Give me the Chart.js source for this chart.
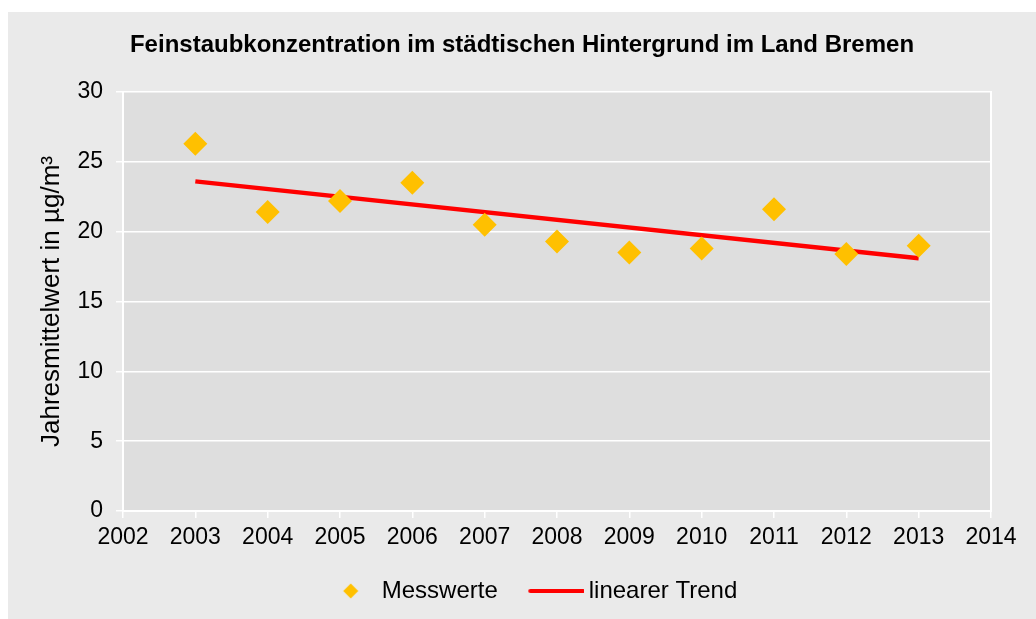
<!DOCTYPE html>
<html>
<head>
<meta charset="utf-8">
<script src="https://cdn.jsdelivr.net/npm/chart.js@4"></script>
<style>
  html, body { margin: 0; padding: 0; background: #ffffff; }
  #box {
    position: absolute; left: 8px; top: 12px;
    width: 1028px; height: 607px;
    background: #eaeaea;
  }
</style>
</head>
<body>
<div id="box"><canvas id="chart"></canvas></div>
<script>
// Jahresmittelwerte (µg/m³)
let years = [2003, 2004, 2005, 2006, 2007, 2008, 2009, 2010, 2011, 2012, 2013];
let messwerte = [26.3, 21.4, 22.2, 23.5, 20.5, 19.3, 18.5, 18.8, 21.6, 18.4, 19.0];
// linear trend, start and end as drawn
let trendYears = [2003, 2013];
let trendValues = [23.6, 18.1];
let yTicks = [0, 5, 10, 15, 20, 25, 30];
let xMin = 2002;
let xMax = 2014;

let fontFamily = "'Liberation Sans', Arial, sans-serif";
let gold = "#ffc000";
let red = "#ff0000";

// small images for the legend markers (offset so text spacing matches)
function diamondImage() {
  let c = document.createElement("canvas");
  c.width = 41;
  c.height = 16;
  let g = c.getContext("2d");
  let cx = 33;
  g.fillStyle = gold;
  g.beginPath();
  g.moveTo(cx, 0.5);
  g.lineTo(cx + 7.5, 8);
  g.lineTo(cx, 15.5);
  g.lineTo(cx - 7.5, 8);
  g.closePath();
  g.fill();
  return c;
}
function lineImage() {
  let c = document.createElement("canvas");
  c.width = 78;
  c.height = 6;
  let g = c.getContext("2d");
  g.strokeStyle = red;
  g.lineWidth = 4;
  g.lineCap = "round";
  g.beginPath();
  g.moveTo(24, 3);
  g.lineTo(77, 3);
  g.stroke();
  return c;
}
let legendMarks = [diamondImage(), lineImage()];

let plotBackground = {
  id: "plotBackground",
  beforeDraw(chart) {
    let a = chart.chartArea;
    let ctx = chart.ctx;
    ctx.save();
    ctx.fillStyle = "#dedede";
    ctx.fillRect(a.left, a.top, a.right - a.left, a.bottom - a.top);
    ctx.restore();
  },
};

new Chart(document.getElementById("chart"), {
  type: "scatter",
  data: {
    datasets: [
      {
        label: "Messwerte",
        data: years.map((y, i) => ({ x: y, y: messwerte[i] })),
        pointStyle: "rectRot",
        pointRadius: 12,
        pointHoverRadius: 12,
        backgroundColor: gold,
        borderColor: gold,
        borderWidth: 0,
        order: 1,
      },
      {
        label: "linearer Trend",
        type: "line",
        data: trendYears.map((y, i) => ({ x: y, y: trendValues[i] })),
        borderColor: red,
        borderWidth: 4.5,
        pointRadius: 0,
        fill: false,
        order: 2,
      },
    ],
  },
  options: {
    responsive: true,
    maintainAspectRatio: false,
    animation: false,
    layout: { padding: { left: 0, right: 0, top: 0, bottom: 6 } },
    plugins: {
      title: {
        display: true,
        text: "Feinstaubkonzentration im städtischen Hintergrund im Land Bremen",
        color: "#000000",
        font: { family: fontFamily, size: 24, weight: "bold", lineHeight: 1.2 },
        padding: { top: 18.6, bottom: 32.6 },
      },
      legend: {
        display: true,
        position: "bottom",
        labels: {
          color: "#000000",
          font: { family: fontFamily, size: 24 },
          usePointStyle: true,
          pointStyleWidth: 63,
          boxHeight: 16,
          padding: 16,
          generateLabels: (chart) =>
            chart.data.datasets.map((ds, i) => ({
              text: ds.label,
              pointStyle: legendMarks[i],
              fillStyle: i == 0 ? gold : red,
              strokeStyle: i == 0 ? gold : red,
              lineWidth: 0,
              hidden: false,
              datasetIndex: i,
            })),
        },
      },
      tooltip: { enabled: false },
    },
    scales: {
      x: {
        type: "linear",
        min: xMin,
        max: xMax,
        afterFit: (scale) => { scale.height = 52; },
        ticks: {
          stepSize: 1,
          color: "#000000",
          font: { family: fontFamily, size: 23 },
          padding: 6,
          callback: (v) => String(v),
        },
        grid: {
          drawOnChartArea: false,
          drawTicks: true,
          tickLength: 7,
          color: "#ffffff",
          lineWidth: 1.5,
        },
        border: { display: true, color: "#ffffff", width: 2 },
      },
      y: {
        min: 0,
        max: 30,
        afterFit: (scale) => { scale.width = 115; },
        afterBuildTicks: (scale) => { scale.ticks = yTicks.map((v) => ({ value: v })); },
        ticks: {
          color: "#000000",
          font: { family: fontFamily, size: 23 },
          padding: 13,
        },
        grid: {
          color: "#ffffff",
          lineWidth: 1.5,
          tickLength: 7,
        },
        border: { display: true, color: "#ffffff", width: 2 },
        title: {
          display: true,
          text: "Jahresmittelwert in µg/m³",
          color: "#000000",
          font: { family: fontFamily, size: 26 },
          padding: { top: 28, bottom: 0 },
        },
      },
      // right frame line of the plot, and room on the right side
      yRight: {
        position: "right",
        min: 0,
        max: 30,
        afterFit: (scale) => { scale.width = 45; },
        ticks: { display: false },
        grid: { drawOnChartArea: false, drawTicks: false },
        border: { display: true, color: "#ffffff", width: 2 },
      },
    },
  },
  plugins: [plotBackground],
});
</script>
</body>
</html>
